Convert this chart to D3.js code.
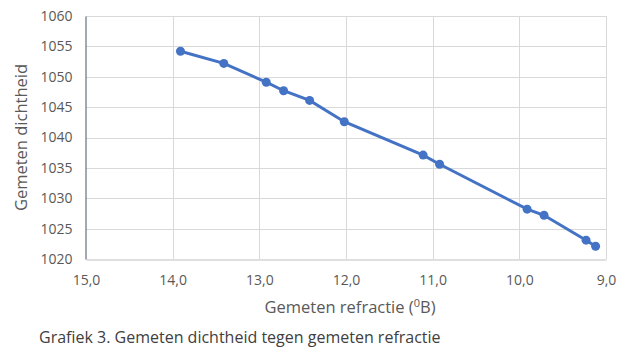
<!DOCTYPE html>
<html>
<head>
<meta charset="utf-8">
<script src="https://cdn.jsdelivr.net/npm/d3@7"></script>
<style>
  body { margin: 0; background: #fff; }
  text { font-family: "Open Sans", sans-serif; fill: #595959; }
</style>
</head>
<body>
<svg id="chart" width="632" height="362"></svg>
<script>
// gemeten refractie (oB) en dichtheid
var refractie = [13.91, 13.41, 12.92, 12.72, 12.42, 12.02, 11.11, 10.92, 9.91, 9.715, 9.23, 9.12];
var dichtheid = [1054.2, 1052.2, 1049.1, 1047.7, 1046.1, 1042.6, 1037.1, 1035.6, 1028.2, 1027.2, 1023.1, 1022.1];
var xTicks = [15, 14, 13, 12, 11, 10, 9];
var yTicks = [1020, 1025, 1030, 1035, 1040, 1045, 1050, 1055, 1060];

var svg = d3.select('#chart'),
  mLeft = 86,
  mRight = 606,
  mTop = 16,
  mBottom = 259;

var x = d3.scaleLinear().domain([15, 9]).range([mLeft, mRight]);
var y = d3.scaleLinear().domain([1020, 1060]).range([mBottom, mTop]);

var fmt = function(d) { return d.toFixed(1).replace('.', ','); };

// grid
svg.append('g')
  .selectAll('line')
  .data(yTicks.slice(1))
  .enter().append('line')
  .attr('x1', mLeft).attr('x2', mRight)
  .attr('y1', function(d) { return Math.round(y(d)) + 0.5; })
  .attr('y2', function(d) { return Math.round(y(d)) + 0.5; })
  .style('stroke', '#d9d9d9');

svg.append('g')
  .selectAll('line')
  .data(xTicks.slice(1))
  .enter().append('line')
  .attr('y1', mTop).attr('y2', mBottom)
  .attr('x1', function(d) { return Math.round(x(d)) + 0.5; })
  .attr('x2', function(d) { return Math.round(x(d)) + 0.5; })
  .style('stroke', '#d9d9d9');

// axes
var xAxis = d3.axisBottom(x).tickValues(xTicks).tickFormat(fmt).tickSize(0).tickPadding(16);
var yAxis = d3.axisLeft(y).tickValues(yTicks).tickFormat(d3.format('d')).tickSize(0).tickPadding(13);

var gx = svg.append('g').attr('transform', 'translate(0,' + (mBottom + 0.5) + ')').call(xAxis);
gx.select('.domain').style('stroke', '#bfbfbf');
var gy = svg.append('g').attr('transform', 'translate(' + (mLeft - 0.5) + ',0)').call(yAxis);
gy.select('.domain').style('stroke', '#44546a');

svg.selectAll('.tick text')
  .style('font-family', '"Open Sans", sans-serif')
  .style('font-size', '14px')
  .style('fill', '#595959');

// line + markers
var pts = refractie.map(function(d, i) { return [d, dichtheid[i]]; });
var line = d3.line()
  .x(function(d) { return x(d[0]); })
  .y(function(d) { return y(d[1]); });

svg.append('path')
  .datum(pts)
  .attr('d', line)
  .style('fill', 'none')
  .style('stroke', '#4472c4')
  .style('stroke-width', 3);

svg.selectAll('circle')
  .data(pts)
  .enter().append('circle')
  .attr('cx', function(d) { return x(d[0]); })
  .attr('cy', function(d) { return y(d[1]); })
  .attr('r', 4.5)
  .style('fill', '#4472c4');

// titles
var xt = svg.append('text')
  .attr('x', 350).attr('y', 313)
  .attr('text-anchor', 'middle')
  .style('font-size', '16.5px');
xt.append('tspan').text('Gemeten refractie (');
xt.append('tspan').attr('dy', -6).style('font-size', '11px').text('0');
xt.append('tspan').attr('dy', 6).text('B)');

svg.append('text')
  .attr('transform', 'translate(27,137.5) rotate(-90)')
  .attr('text-anchor', 'middle')
  .style('font-size', '16.5px')
  .text('Gemeten dichtheid');

svg.append('text')
  .attr('x', 39).attr('y', 343)
  .style('font-size', '16px')
  .style('fill', '#404040')
  .text('Grafiek 3. Gemeten dichtheid tegen gemeten refractie');
</script>
</body>
</html>
